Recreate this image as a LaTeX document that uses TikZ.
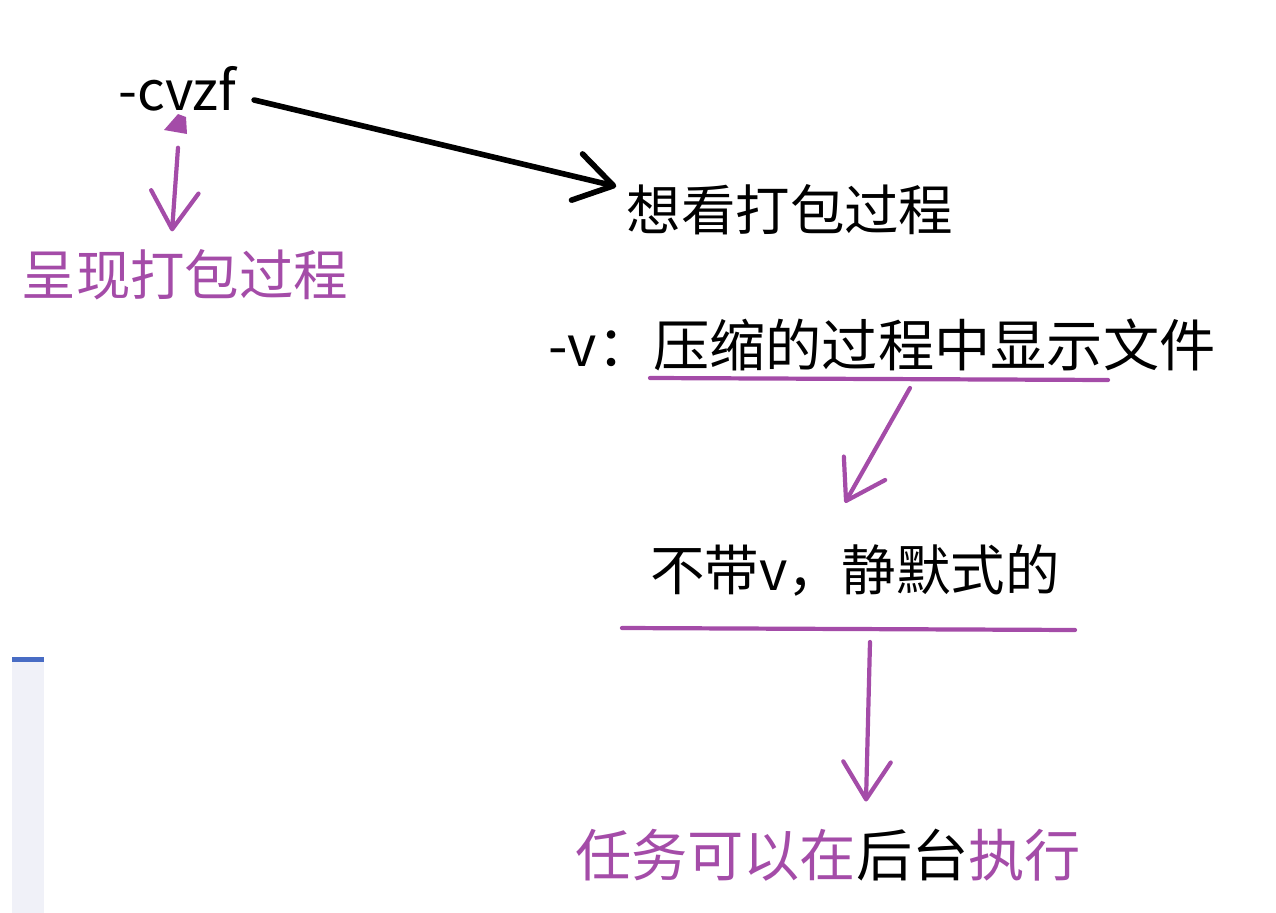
\documentclass[tikz,border=0pt]{standalone}
\usepackage{fontspec}
\setmainfont{Noto Sans CJK SC}
\usepackage{xcolor}
\definecolor{pen}{RGB}{164,76,168}
\definecolor{stripfill}{RGB}{240,241,248}
\definecolor{stripbar}{RGB}{72,108,196}
\usetikzlibrary{arrows.meta}
\usetikzlibrary{calc}

\tikzset{
  word/.style={inner sep=0pt, font=\fontsize{31}{37}\selectfont},
  bigword/.style={inner sep=0pt, font=\fontsize{32}{38}\selectfont},
  penline/.style={draw=pen, line width=2.4pt, line cap=round},
  penarrow/.style={penline, -{Straight Barb[length=0.75cm,width=0.95cm,round]}},
  inkarrow/.style={draw=black, line width=3.2pt, line cap=round, -{Straight Barb[length=0.75cm,width=0.95cm,round]}},
}

\begin{document}
\begin{tikzpicture}[x=0.02cm, y=-0.02cm]
  \useasboundingbox (0,0) rectangle (1276,913);

  % side strip
  \fill[stripfill] (12,662) rectangle (44,913);
  \fill[stripbar] (12,657) rectangle (44,662);

  % option and its meaning
  \node[word] (cvzf) at (177,89) {-cvzf};
  \fill[pen] (164,130) -- (178,114) -- (186,117) -- (187,134) -- cycle;
  \node[word, text=pen] (chengxian) at (185,275) {呈现打包过程};
  \draw[penarrow] ($(cvzf.south)+(1,36)$) -- ($(chengxian.north)+(-13,-18)$);

  \node[word] (xiangkan) at (790,210) {想看打包过程};
  \draw[inkarrow] ($(cvzf.east)+(18,11)$) -- ($(xiangkan.north west)+(-10,2)$);

  % -v
  \node[bigword] (vopt) at (882,345) {-v：压缩的过程中显示文件};
  \coordinate (vline a) at (650,378);
  \coordinate (vline b) at (1108,380);
  \coordinate (vline mid) at (910,388);
  \draw[penline] (vline a) -- (vline b);

  \node[word] (jingmo) at (855,570) {不带v，静默式的};
  \draw[penarrow] (vline mid) -- ($(jingmo.north)+(-10,-41)$);
  \coordinate (jline a) at (622,628);
  \coordinate (jline b) at (1075,630);
  \coordinate (jline mid) at (870,642);
  \draw[penline] (jline a) -- (jline b);

  % background
  \node[bigword, text=pen] (houtai) at (828,855) {任务可以在{\color{black}后台}执行};
  \draw[penarrow] (jline mid) -- ($(houtai.north)+(38,-27)$);

\end{tikzpicture}
\end{document}
